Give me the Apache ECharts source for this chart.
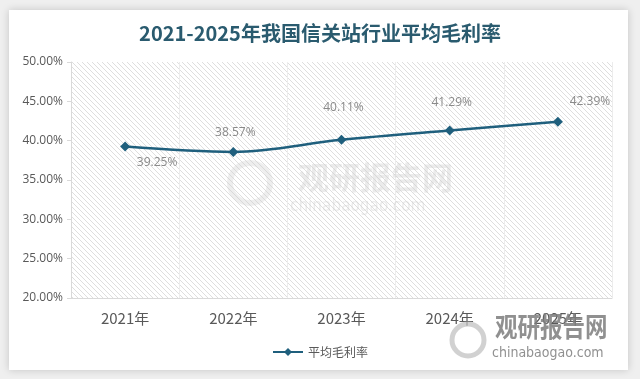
<!DOCTYPE html>
<html>
<head>
<meta charset="utf-8">
<script src="https://cdn.jsdelivr.net/npm/echarts@6/dist/echarts.min.js"></script>
<style>html,body{margin:0;padding:0;background:#efefef;}#c{width:640px;height:379px;}</style>
</head>
<body>
<div id="c"></div>
<script>
var titleText = '2021-2025年我国信关站行业平均毛利率';
var seriesName = '平均毛利率';
var categories = ['2021年', '2022年', '2023年', '2024年', '2025年'];
var values = [39.25, 38.57, 40.11, 41.29, 42.39];
var yMin = 20, yMax = 50, yStep = 5;

// hatch pattern
var pc = document.createElement('canvas');
pc.width = 5; pc.height = 5;
var g = pc.getContext('2d');
g.fillStyle = '#ffffff'; g.fillRect(0, 0, 5, 5);
g.strokeStyle = '#dedede'; g.lineWidth = 1;
g.beginPath();
g.moveTo(-1, -1); g.lineTo(6, 6);
g.moveTo(-1, 4); g.lineTo(1, 6);
g.moveTo(4, -1); g.lineTo(6, 1);
g.stroke();

var labelPlace = [
  {position: 'bottom', offset: [32, 0]},
  {position: 'top', offset: [2, -3]},
  {position: 'top', offset: [2, -16]},
  {position: 'top', offset: [2, -12]},
  {position: 'top', offset: [32, -4]}
];

var seriesData = values.map(function (v, i) {
  return {value: v, label: labelPlace[i]};
});

var chart = echarts.init(document.getElementById('c'), null, {renderer: 'canvas'});
chart.setOption({
  backgroundColor: '#efefef',
  animation: false,
  title: {
    text: titleText,
    left: 'center',
    top: 18,
    textStyle: {fontSize: 20, fontWeight: 'bold', color: '#2a5b6f', fontFamily: 'Noto Sans CJK SC'}
  },
  graphic: [
    {type: 'rect', z: -10, shape: {x: 9, y: 10, width: 619, height: 360},
      style: {fill: '#ffffff', shadowBlur: 8, shadowColor: 'rgba(0,0,0,0.18)'}},
    {type: 'text', z: 100, left: 298, top: 162,
      style: {text: '观研报告网', font: 'bold 31px "Noto Sans CJK SC"', fill: 'rgba(205,205,205,0.4)'}},
    {type: 'text', z: 100, left: 290, top: 198,
      style: {text: 'chinabaogao.com', font: '17px "DejaVu Sans Condensed"', fill: 'rgba(205,205,205,0.4)'}},
    {type: 'circle', z: 100, shape: {cx: 250, cy: 183, r: 20},
      style: {fill: 'none', stroke: 'rgba(205,205,205,0.35)', lineWidth: 6}},
    {type: 'text', z: 100, x: 495, y: 313, scaleY: 1.2,
      style: {text: '观研报告网', font: 'bold 22.5px "Noto Sans CJK SC"', fill: 'rgba(125,125,125,0.85)', textVerticalAlign: 'top'}},
    {type: 'text', z: 100, left: 492, top: 346,
      style: {text: 'chinabaogao.com', font: '14px "DejaVu Sans Condensed"', fill: 'rgba(125,125,125,0.85)'}},
    {type: 'circle', z: 100, shape: {cx: 468, cy: 340, r: 16},
      style: {fill: 'none', stroke: 'rgba(190,190,190,0.7)', lineWidth: 5}}
  ],
  grid: {
    left: 71, right: 28, top: 62, bottom: 81,
    show: true,
    backgroundColor: {image: pc, repeat: 'repeat'},
    borderWidth: 0
  },
  legend: {
    data: [seriesName],
    left: 'center',
    top: 341,
    itemWidth: 30,
    itemHeight: 10,
    textStyle: {color: '#595959', fontSize: 12, fontFamily: 'Noto Sans CJK SC'}
  },
  xAxis: {
    type: 'category',
    data: categories,
    boundaryGap: true,
    axisLine: {show: true, lineStyle: {color: '#d9d9d9'}},
    axisTick: {show: false},
    splitLine: {show: true, lineStyle: {color: '#ececec', width: 1}},
    axisLabel: {color: '#595959', fontSize: 15, margin: 13, fontFamily: 'Noto Sans CJK SC'}
  },
  yAxis: {
    type: 'value',
    min: yMin, max: yMax, interval: yStep,
    axisLine: {show: true, lineStyle: {color: '#d9d9d9'}},
    axisTick: {show: true, length: 4, lineStyle: {color: '#d9d9d9'}},
    splitLine: {show: false},
    axisLabel: {color: '#595959', fontSize: 12, margin: 8, fontFamily: 'Open Sans',
      formatter: function (v) { return v.toFixed(2) + '%'; }}
  },
  series: [{
    name: seriesName,
    type: 'line',
    data: seriesData,
    smooth: 0.35,
    symbol: 'diamond',
    symbolSize: 10,
    lineStyle: {color: '#1f5f7d', width: 2.5},
    itemStyle: {color: '#1f5f7d'},
    label: {show: true, color: '#8a8a8a', fontSize: 12, fontFamily: 'Open Sans',
      formatter: function (p) { return p.value.toFixed(2) + '%'; }}
  }]
});
</script>
</body>
</html>
